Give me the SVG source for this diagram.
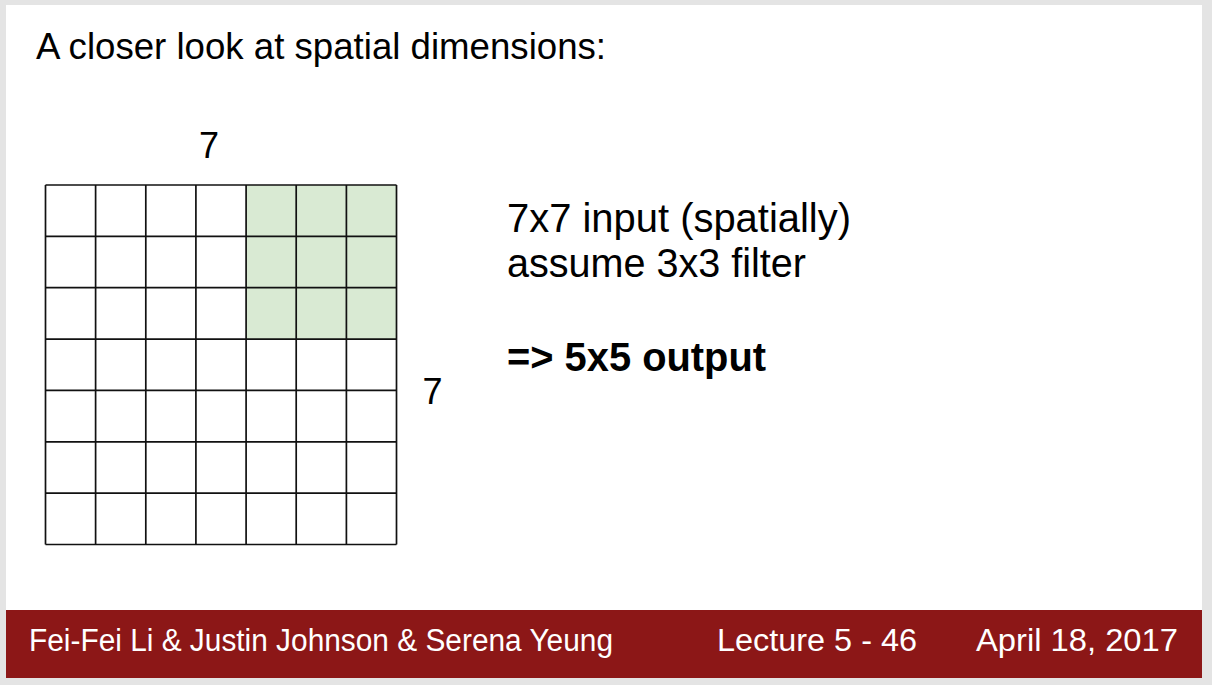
<svg xmlns="http://www.w3.org/2000/svg" width="1212" height="685" viewBox="0 0 1212 685">
  <style>
    .t { font-family: "Liberation Sans", Arial, sans-serif; fill: #000; }
    .f { font-family: "Liberation Sans", Arial, sans-serif; fill: #fff; font-size: 31px; }
    .grid line { stroke: #111; stroke-width: 1.7; }
  </style>
  <rect x="0" y="0" width="1212" height="685" fill="#e4e4e4"/>
  <rect id="slide" x="6" y="5" width="1196" height="605" fill="#ffffff"/>
  <g id="footer">
    <rect x="6" y="610" width="1196" height="68" fill="#8c1717"/>
    <text class="f" x="29" y="651" textLength="584" lengthAdjust="spacingAndGlyphs">Fei-Fei Li &amp; Justin Johnson &amp; Serena Yeung</text>
    <text class="f" x="717" y="651" textLength="200" lengthAdjust="spacingAndGlyphs">Lecture 5 - 46</text>
    <text class="f" x="976" y="651" textLength="202" lengthAdjust="spacingAndGlyphs">April 18, 2017</text>
  </g>
  <g id="title">
    <text class="t" x="36" y="59" font-size="36" textLength="570" lengthAdjust="spacingAndGlyphs">A closer look at spatial dimensions:</text>
  </g>
  <g id="grid" class="grid">
    <rect id="filter" x="246.1" y="185" width="150.4" height="154.1" fill="#d9ead3"/>
    <line x1="45.5" y1="185" x2="396.5" y2="185"/>
    <line x1="45.5" y1="236.4" x2="396.5" y2="236.4"/>
    <line x1="45.5" y1="287.7" x2="396.5" y2="287.7"/>
    <line x1="45.5" y1="339.1" x2="396.5" y2="339.1"/>
    <line x1="45.5" y1="390.4" x2="396.5" y2="390.4"/>
    <line x1="45.5" y1="441.8" x2="396.5" y2="441.8"/>
    <line x1="45.5" y1="493.1" x2="396.5" y2="493.1"/>
    <line x1="45.5" y1="544.5" x2="396.5" y2="544.5"/>
    <line x1="45.5" y1="185" x2="45.5" y2="544.5"/>
    <line x1="95.6" y1="185" x2="95.6" y2="544.5"/>
    <line x1="145.8" y1="185" x2="145.8" y2="544.5"/>
    <line x1="195.9" y1="185" x2="195.9" y2="544.5"/>
    <line x1="246.1" y1="185" x2="246.1" y2="544.5"/>
    <line x1="296.2" y1="185" x2="296.2" y2="544.5"/>
    <line x1="346.4" y1="185" x2="346.4" y2="544.5"/>
    <line x1="396.5" y1="185" x2="396.5" y2="544.5"/>
  </g>
  <g id="labels">
    <text class="t" x="209" y="158" font-size="36" text-anchor="middle">7</text>
    <text class="t" x="432.5" y="404" font-size="36" text-anchor="middle">7</text>
  </g>
  <g id="description">
    <text class="t" x="507" y="232" font-size="40" textLength="344" lengthAdjust="spacingAndGlyphs">7x7 input (spatially)</text>
    <text class="t" x="507" y="277" font-size="40" textLength="299" lengthAdjust="spacingAndGlyphs">assume 3x3 filter</text>
    <text class="t" x="507" y="371" font-size="40" font-weight="bold" textLength="259" lengthAdjust="spacingAndGlyphs">=&gt; 5x5 output</text>
  </g>
</svg>
